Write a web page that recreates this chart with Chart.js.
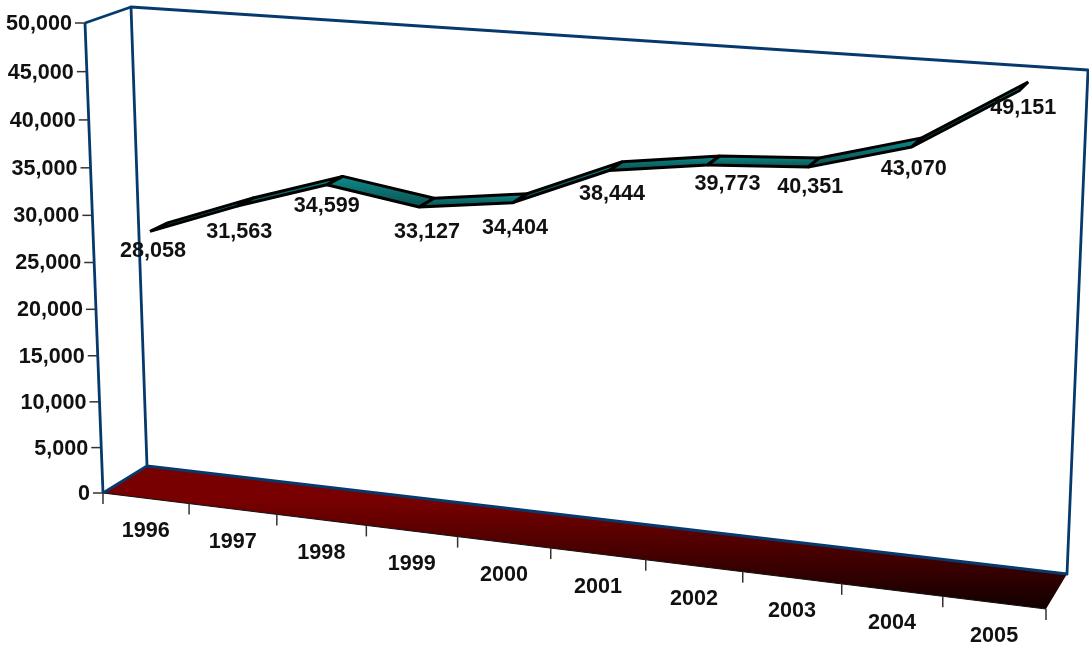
<!DOCTYPE html>
<html>
<head>
<meta charset="utf-8">
<title>Chart</title>
<script src="https://cdn.jsdelivr.net/npm/chart.js@4"></script>
<style>
  html, body { margin: 0; padding: 0; background: #fff; }
  canvas { display: block; }
</style>
</head>
<body>
<canvas id="lineChart" width="1089" height="649"></canvas>
<script>
const years = ['1996', '1997', '1998', '1999', '2000', '2001', '2002', '2003', '2004', '2005'];
const values = [28058, 31563, 34599, 33127, 34404, 38444, 39773, 40351, 43070, 49151];

// value labels are not placed evenly in the picture, small nudge for each one
const labelShift = [[3, 20], [2, 26], [0, 21], [8, 25], [2, 25], [3, 24], [20, 19], [2, 20], [2, 22], [4, 17]];

// corners on screen: bottom left, bottom right, top right, top left
const frontPlane = [[103, 493], [1046, 609], [1067, 92], [85, 23]];
const backPlane = [[147, 466], [1067, 574], [1088, 70], [131, 7]];

const frameColor = '#063a6e';
const font = 'bold 21.6px "Liberation Sans", Arial, sans-serif';

// unit square to quad
function makeHomography(q) {
    const [x0, y0] = q[0], [x1, y1] = q[1], [x2, y2] = q[2], [x3, y3] = q[3];
    const sx = x0 - x1 + x2 - x3, sy = y0 - y1 + y2 - y3;
    const dx1 = x1 - x2, dx2 = x3 - x2, dy1 = y1 - y2, dy2 = y3 - y2;
    const den = dx1 * dy2 - dx2 * dy1;
    const g = (sx * dy2 - dx2 * sy) / den;
    const h = (dx1 * sy - sx * dy1) / den;
    const a = x1 - x0 + g * x1, b = x3 - x0 + h * x3, c = x0;
    const d = y1 - y0 + g * y1, e = y3 - y0 + h * y3, f = y0;
    return (u, v) => {
        const w = g * u + h * v + 1;
        return [(a * u + b * v + c) / w, (d * u + e * v + f) / w];
    };
}

const frontMap = makeHomography(frontPlane);
const backMap = makeHomography(backPlane);

// chart pixel + depth (0 front, 1 back wall) to screen pixel
function project(chart, px, py, z) {
    const area = chart.chartArea;
    const u = (px - area.left) / (area.right - area.left);
    const v = (area.bottom - py) / (area.bottom - area.top);
    const f = frontMap(u, v), b = backMap(u, v);
    return [f[0] + (b[0] - f[0]) * z, f[1] + (b[1] - f[1]) * z];
}

function polygon(ctx, pts) {
    ctx.beginPath();
    pts.forEach((p, i) => i ? ctx.lineTo(p[0], p[1]) : ctx.moveTo(p[0], p[1]));
    ctx.closePath();
}

function line(ctx, a, b) {
    ctx.beginPath();
    ctx.moveTo(a[0], a[1]);
    ctx.lineTo(b[0], b[1]);
    ctx.stroke();
}

const perspectivePlugin = {
    id: 'perspective',
    afterDraw(chart) {
        const ctx = chart.ctx;
        const area = chart.chartArea;
        const xs = chart.scales.x, ys = chart.scales.y;
        const at = (px, py, z) => project(chart, px, py, z);
        ctx.save();

        // floor
        const floor = [at(area.left, area.bottom, 0), at(area.right, area.bottom, 0),
                       at(area.right, area.bottom, 1), at(area.left, area.bottom, 1)];
        const grad = ctx.createLinearGradient(0, 500, 0, 609);
        grad.addColorStop(0, '#780000');
        grad.addColorStop(1, '#120000');
        ctx.fillStyle = grad;
        polygon(ctx, floor);
        ctx.fill();

        ctx.strokeStyle = '#111';
        ctx.lineWidth = 1.2;
        line(ctx, floor[0], floor[1]);

        // frame
        const wall = [floor[3], floor[2], at(area.right, area.top, 1), at(area.left, area.top, 1)];
        ctx.strokeStyle = frameColor;
        ctx.lineWidth = 2.8;
        ctx.lineJoin = 'round';
        polygon(ctx, wall);
        ctx.stroke();
        line(ctx, floor[0], floor[3]);
        line(ctx, floor[0], at(area.left, area.top, 0));
        line(ctx, at(area.left, area.top, 0), wall[3]);

        // y axis ticks and labels
        ctx.font = font;
        ctx.fillStyle = '#111';
        ctx.strokeStyle = '#333';
        ctx.lineWidth = 1.5;
        ctx.textBaseline = 'middle';
        ctx.textAlign = 'right';
        ys.ticks.forEach(t => {
            const p = at(area.left, ys.getPixelForValue(t.value), 0);
            line(ctx, [p[0] - 10, p[1]], p);
            ctx.fillText(t.label, p[0] - 13, p[1] + 1);
        });

        // x axis ticks and labels
        const step = (area.right - area.left) / years.length;
        ctx.textAlign = 'center';
        for (let i = 0; i <= years.length; i++) {
            const p = at(area.left + i * step, area.bottom, 0);
            line(ctx, p, [p[0], p[1] + 11]);
        }
        years.forEach((y, i) => {
            const p = at(xs.getPixelForValue(i), area.bottom, 0);
            ctx.fillText(y, p[0], p[1] + 33);
        });

        // ribbon
        const pts = chart.getDatasetMeta(0).data;
        const zFront = 0.3, zBack = 0.7;
        ctx.strokeStyle = '#000';
        ctx.lineWidth = 3;
        ctx.lineJoin = 'bevel';
        for (let i = 0; i < pts.length - 1; i++) {
            const a = pts[i], b = pts[i + 1];
            const f0 = at(a.x, a.y, zFront), f1 = at(b.x, b.y, zFront);
            const b0 = at(a.x, a.y, zBack), b1 = at(b.x, b.y, zBack);
            const top = Math.min(b0[1], b1[1]), bottom = Math.max(f0[1], f1[1]);
            const fill = ctx.createLinearGradient(0, top, 0, bottom);
            fill.addColorStop(0, '#0f8a8a');
            fill.addColorStop(1, '#0a5050');
            ctx.fillStyle = fill;
            polygon(ctx, [f0, f1, b1, b0]);
            ctx.fill();
            ctx.stroke();
        }

        // value labels
        ctx.fillStyle = '#111';
        pts.forEach((pt, i) => {
            const p = at(pt.x, pt.y, zFront);
            ctx.fillText(values[i].toLocaleString('en-US'), p[0] + labelShift[i][0], p[1] + labelShift[i][1]);
        });
        ctx.restore();
    },
};

const chart = new Chart(document.getElementById('lineChart').getContext('2d'), {
    type: 'line',
    data: {
        labels: years,
        datasets: [{ data: values, showLine: false, pointRadius: 0 }],
    },
    options: {
        responsive: false,
        animation: false,
        layout: { padding: 0 },
        plugins: { legend: { display: false }, tooltip: { enabled: false } },
        scales: {
            x: { display: false, offset: true },
            y: {
                display: false,
                min: 0,
                max: 50000,
                ticks: { stepSize: 5000, callback: v => v.toLocaleString('en-US') },
            },
        },
    },
    plugins: [perspectivePlugin],
});
</script>
</body>
</html>
